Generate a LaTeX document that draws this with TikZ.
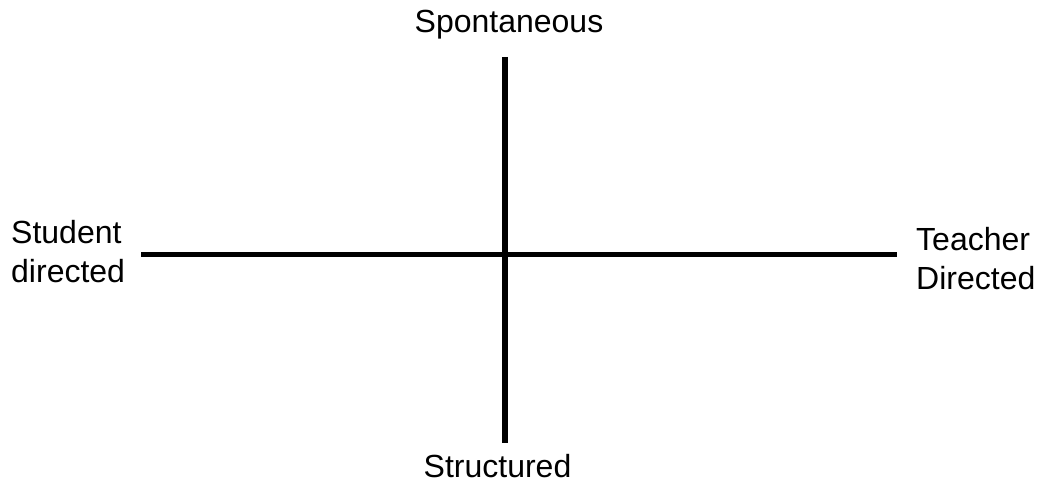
\documentclass[tikz,border=0pt]{standalone}
\usepackage{fontspec}
\setmainfont{Liberation Sans}
\begin{document}
\begin{tikzpicture}[x=1pt,y=-1pt,
  axis/.style={line width=5.8pt,black},
  lbl/.style={font=\fontsize{32}{39}\selectfont,inner sep=0pt,align=left}]
\useasboundingbox (0,0) rectangle (1038,484);
\coordinate (top) at (505,57);
\coordinate (bot) at (505,443);
\coordinate (lft) at (141,254.5);
\coordinate (rgt) at (897,254.5);
\draw[axis] (top) -- (bot);
\draw[axis] (lft) -- (rgt);
\node[lbl,anchor=base] (sp) at (509,33) {Spontaneous};
\node[lbl,anchor=base] (st) at (497.5,477) {Structured};
\node[lbl,anchor=base west] (sd) at (11,282) {Student\\directed};
\node[lbl,anchor=base west] (td) at (916,289) {Teacher\\Directed};
\end{tikzpicture}
\end{document}
